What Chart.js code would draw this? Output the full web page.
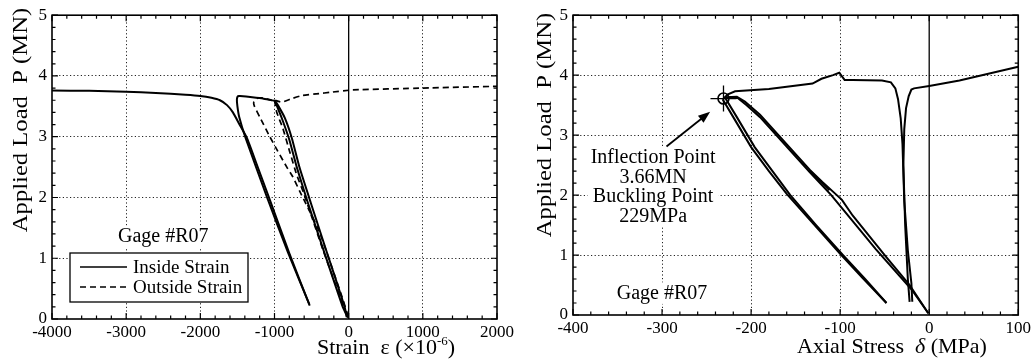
<!DOCTYPE html>
<html>
<head>
<meta charset="utf-8">
<script src="https://cdn.jsdelivr.net/npm/chart.js@4.4.0/dist/chart.umd.min.js"></script>
<style>
html, body { margin: 0; padding: 0; background: #fff; }
#wrap { position: relative; width: 1034px; height: 362px; }
.box { position: absolute; top: 0; width: 517px; height: 362px; }
</style>
</head>
<body>
<div id="wrap">
  <div class="box" style="left:0"><canvas id="strainChart"></canvas></div>
  <div class="box" style="left:517px"><canvas id="stressChart"></canvas></div>
</div>
<script>
// ---- data: [x, load P (MN)] ----

// left panel, strain (x1e-6)
var insideCurve = [[-4000,3.76],[-3500,3.755],[-3000,3.74],[-2600,3.72],[-2200,3.69],[-2000,3.67],[-1850,3.64],
    [-1736,3.60],[-1640,3.52],[-1561,3.40],[-1466,3.19],[-1372,2.98],[-1250,2.58],[-1063,1.96],[-800,1.08],[-525,0.22]];
var insideLoop = [[-530,0.24],[-820,1.10],[-1100,2.0],[-1390,2.98],[-1475,3.32],[-1500,3.50],[-1507,3.62],[-1490,3.67],
    [-1466,3.67],[-1300,3.65],[-1157,3.63],[-1040,3.60],[-996,3.59],[-955,3.52],[-861,3.31],[-767,2.98],[-659,2.48],
    [-510,1.91],[-300,1.12],[-54,0.2],[-27,0.03]];
var insideReturn = [[-985,3.56],[-900,3.30],[-800,2.95],[-700,2.50],[-560,1.95],[-330,1.10],[-80,0.2],[-10,0.02]];
var outsideUp = [[-5,0.04],[-80,0.33],[-400,1.45],[-659,2.10],[-753,2.34],[-834,2.50],[-955,2.76],[-1063,3.0],
    [-1197,3.32],[-1270,3.50],[-1280,3.57],[-1238,3.63],[-1157,3.64],[-1040,3.60]];
var outsideDown = [[-1000,3.60],[-969,3.40],[-888,3.14],[-794,2.75],[-700,2.37],[-600,2.05],[-350,1.15],[-50,0.15],[-10,0.04]];
var outsideFlat = [[-1000,3.60],[-900,3.57],[-760,3.63],[-619,3.68],[-400,3.71],[-256,3.73],[54,3.77],[1000,3.80],[2000,3.83]];

// right panel, axial stress (MPa)
var stressTop = [[-231,3.61],[-226,3.68],[-218,3.73],[-180,3.77],[-131,3.86],[-121,3.94],[-108,4.0],[-101,4.04],
    [-95,3.92],[-86,3.92],[-53,3.91],[-43,3.88],[-38,3.78],[-35,3.6],[-32,3.28],[-30,2.85],[-28,1.9],[-24,1.08],[-20,0.53],[-19,0.22]];
var stressRecover = [[-22,0.22],[-24,0.6],[-27,1.5],[-29,2.5],[-28,3.1],[-26,3.45],[-23,3.65],[-20,3.76],[-17,3.78],[0,3.82],[34,3.91],[100,4.14]];
var stressLoopOuter = [[-1,0.03],[-22,0.5],[-50,1.0],[-86,1.66],[-98,1.92],[-120,2.22],[-134,2.42],[-190,3.34],
    [-207,3.56],[-216,3.64],[-229,3.63]];
var stressLoopInner = [[-229,3.62],[-215,3.62],[-205,3.50],[-190,3.30],[-134,2.38],[-110,2.0],[-60,1.1],[-19,0.41],[-1,0.03]];
var stressOverlap = [[-135,2.42],[-112,2.08]];
var stressLower1 = [[-232,3.60],[-220,3.30],[-200,2.80],[-180,2.40],[-160,2.02],[-130,1.52],[-100,1.02],[-75,0.62],[-48,0.2]];
var stressLower2 = [[-229,3.62],[-216,3.30],[-196,2.80],[-176,2.40],[-156,2.0],[-127,1.50],[-97,1.0],[-72,0.6],[-48,0.2]];
var inflectionPoint = [[-231,3.61]];

var strainTicks = { min: -4000, max: 2000, step: 200, major: 1000 };
var stressTicks = { min: -400, max: 100, step: 20, major: 100 };
var loadTicks = { min: 0, max: 5, step: 0.2, major: 1 };

var SERIF = "'Liberation Serif', 'Times New Roman', serif";

function isMajor(v, major) {
    return Math.abs(v / major - Math.round(v / major)) < 1e-6;
}

function series(points, label, dash, tension) {
    return {
        label: label,
        data: points.map(function(p) { return { x: p[0], y: p[1] }; }),
        showLine: true,
        borderColor: '#000',
        borderWidth: dash ? 1.7 : 2,
        borderDash: dash || [],
        pointRadius: 0,
        tension: tension === undefined ? 0.15 : tension,
        fill: false
    };
}

function drawRich(ctx, parts, cx, cy, stretch) {
    var total = 0;
    parts.forEach(function(p) { ctx.font = p.f; p.w = ctx.measureText(p.t).width; total += p.w; });
    ctx.save();
    ctx.translate(cx, cy);
    ctx.scale(stretch || 1, 1);
    var x = -total / 2;
    ctx.textAlign = 'left';
    ctx.textBaseline = 'middle';
    parts.forEach(function(p) { ctx.font = p.f; ctx.fillText(p.t, x, p.dy || 0); x += p.w; });
    ctx.restore();
}

// frame, inward ticks, zero line, notes, legend, titles
var paperFrame = {
    id: 'paperFrame',
    beforeDatasetsDraw: function(chart, args, o) {
        var ctx = chart.ctx, a = chart.chartArea, sx = chart.scales.x, sy = chart.scales.y;
        ctx.save();
        ctx.strokeStyle = '#000';
        ctx.lineWidth = 1.3;
        var zx = sx.getPixelForValue(0);
        ctx.beginPath(); ctx.moveTo(zx, a.top); ctx.lineTo(zx, a.bottom); ctx.stroke();

        (o.notes || []).forEach(function(n) {
            var cx = sx.getPixelForValue(n.x), cy = sy.getPixelForValue(n.y);
            ctx.font = '20px ' + SERIF;
            var w = 0;
            n.lines.forEach(function(t) { w = Math.max(w, ctx.measureText(t).width); });
            var h = n.lines.length * 19.5;
            ctx.fillStyle = '#fff';
            ctx.fillRect(cx - w / 2 - 3, cy - 11, w + 6, h + 2);
            ctx.fillStyle = '#000';
            ctx.textAlign = 'center';
            ctx.textBaseline = 'middle';
            n.lines.forEach(function(t, i) { ctx.fillText(t, cx, cy + i * 19.5); });
        });

        if (o.legend) {
            var L = o.legend;
            var bx = a.left + L.dx, by = a.bottom - L.dy;
            ctx.fillStyle = '#fff';
            ctx.fillRect(bx, by, L.w, L.h);
            ctx.lineWidth = 1.3;
            ctx.strokeRect(bx, by, L.w, L.h);
            var seen = {}, row = 0;
            chart.data.datasets.forEach(function(ds) {
                if (!ds.label || seen[ds.label]) return;
                seen[ds.label] = true;
                var ly = by + 14 + row * 20;
                ctx.setLineDash(ds.borderDash || []);
                ctx.lineWidth = 1.6;
                ctx.beginPath(); ctx.moveTo(bx + 10, ly); ctx.lineTo(bx + 57, ly); ctx.stroke();
                ctx.setLineDash([]);
                ctx.fillStyle = '#000';
                ctx.font = '19px ' + SERIF;
                ctx.textAlign = 'left';
                ctx.textBaseline = 'middle';
                ctx.fillText(ds.label, bx + 63, ly + 1);
                row++;
            });
        }
        ctx.restore();
    },
    afterDatasetsDraw: function(chart, args, o) {
        var ctx = chart.ctx, a = chart.chartArea, sx = chart.scales.x, sy = chart.scales.y;
        ctx.save();
        ctx.strokeStyle = '#000';
        ctx.lineWidth = 1.2;
        sx.ticks.forEach(function(t) {
            var px = sx.getPixelForValue(t.value), len = isMajor(t.value, o.xMajor) ? 6 : 3.5;
            ctx.beginPath();
            ctx.moveTo(px, a.bottom); ctx.lineTo(px, a.bottom - len);
            ctx.moveTo(px, a.top); ctx.lineTo(px, a.top + len);
            ctx.stroke();
        });
        sy.ticks.forEach(function(t) {
            var py = sy.getPixelForValue(t.value), len = isMajor(t.value, o.yMajor) ? 6 : 3.5;
            ctx.beginPath();
            ctx.moveTo(a.left, py); ctx.lineTo(a.left + len, py);
            ctx.moveTo(a.right, py); ctx.lineTo(a.right - len, py);
            ctx.stroke();
        });
        ctx.lineWidth = 1.6;
        ctx.strokeRect(a.left, a.top, a.right - a.left, a.bottom - a.top);

        if (o.arrow) {
            var x1 = sx.getPixelForValue(o.arrow[0][0]), y1 = sy.getPixelForValue(o.arrow[0][1]);
            var x2 = sx.getPixelForValue(o.arrow[1][0]), y2 = sy.getPixelForValue(o.arrow[1][1]);
            var ang = Math.atan2(y2 - y1, x2 - x1);
            ctx.lineWidth = 1.8;
            ctx.beginPath(); ctx.moveTo(x1, y1); ctx.lineTo(x2 - 8 * Math.cos(ang), y2 - 8 * Math.sin(ang)); ctx.stroke();
            ctx.fillStyle = '#000';
            ctx.beginPath();
            ctx.moveTo(x2, y2);
            ctx.lineTo(x2 - 12 * Math.cos(ang) + 4.5 * Math.sin(ang), y2 - 12 * Math.sin(ang) - 4.5 * Math.cos(ang));
            ctx.lineTo(x2 - 12 * Math.cos(ang) - 4.5 * Math.sin(ang), y2 - 12 * Math.sin(ang) + 4.5 * Math.cos(ang));
            ctx.closePath(); ctx.fill();
        }
        ctx.restore();
    },
    afterDraw: function(chart, args, o) {
        var ctx = chart.ctx;
        ctx.save();
        ctx.fillStyle = '#000';
        drawRich(ctx, o.xTitle, o.xTitlePos[0], o.xTitlePos[1], 1);
        ctx.translate(o.yTitlePos[0], o.yTitlePos[1]);
        ctx.rotate(-Math.PI / 2);
        drawRich(ctx, o.yTitle, 0, 0, 1.12);
        ctx.restore();
    }
};

function axis(t, width, height) {
    var horizontal = width === undefined;
    return {
        type: 'linear',
        min: t.min,
        max: t.max,
        ticks: {
            stepSize: t.step,
            autoSkip: false,
            maxRotation: 0,
            padding: horizontal ? 3 : 5,
            color: '#000',
            font: { family: SERIF, size: 17 },
            callback: function(v) { return isMajor(v, t.major) ? String(Math.round(v)) : ''; }
        },
        grid: {
            drawTicks: false,
            lineWidth: 1,
            color: function(c) {
                var v = c.tick ? c.tick.value : 0;
                if (!isMajor(v, t.major) || v === t.min || v === t.max || v === 0) return 'rgba(0,0,0,0)';
                return '#222';
            }
        },
        border: { display: false, dash: [1.2, 2.4] },
        afterFit: function(s) {
            if (horizontal) s.height = height; else s.width = width;
        }
    };
}

var titleFont = '22px ' + SERIF;

new Chart(document.getElementById('strainChart'), {
    type: 'scatter',
    data: {
        datasets: [
            series(insideCurve, 'Inside Strain'),
            series(insideLoop, 'Inside Strain'),
            series(insideReturn, 'Inside Strain'),
            series(outsideUp, 'Outside Strain', [6, 4]),
            series(outsideDown, 'Outside Strain', [6, 4]),
            series(outsideFlat, 'Outside Strain', [6, 4])
        ]
    },
    options: {
        responsive: true,
        maintainAspectRatio: false,
        animation: false,
        layout: { padding: { left: 0, right: 19, top: 15, bottom: 0 } },
        scales: {
            x: axis(strainTicks, undefined, 43),
            y: axis(loadTicks, 52)
        },
        plugins: {
            legend: { display: false },
            tooltip: { enabled: false },
            paperFrame: {
                xMajor: strainTicks.major,
                yMajor: loadTicks.major,
                notes: [{ x: -2500, y: 1.35, lines: ['Gage #R07'] }],
                legend: { dx: 18, dy: 66, w: 178, h: 49 },
                xTitle: [{ t: 'Strain  ', f: titleFont }, { t: 'ε', f: titleFont }, { t: ' (×10', f: titleFont },
                         { t: '-6', f: '13px ' + SERIF, dy: -6 }, { t: ')', f: titleFont }],
                xTitlePos: [386, 348],
                yTitle: [{ t: 'Applied Load  P (MN)', f: '22px ' + SERIF }],
                yTitlePos: [21, 120]
            }
        }
    },
    plugins: [paperFrame]
});

new Chart(document.getElementById('stressChart'), {
    type: 'scatter',
    data: {
        datasets: [
            series(stressTop, '', null, 0),
            series(stressRecover, '', null, 0),
            series(stressLoopOuter, '', null, 0),
            series(stressLoopInner, '', null, 0),
            series(stressOverlap, '', null, 0),
            series(stressLower1, '', null, 0),
            series(stressLower2, '', null, 0),
            {
                data: inflectionPoint.map(function(p) { return { x: p[0], y: p[1] }; }),
                pointStyle: 'circle', pointRadius: 5.5, borderColor: '#000', borderWidth: 1.6,
                backgroundColor: 'rgba(0,0,0,0)'
            },
            {
                data: inflectionPoint.map(function(p) { return { x: p[0], y: p[1] }; }),
                pointStyle: 'cross', pointRadius: 13, borderColor: '#000', borderWidth: 1.3
            }
        ]
    },
    options: {
        responsive: true,
        maintainAspectRatio: false,
        animation: false,
        layout: { padding: { left: 0, right: 15, top: 13, bottom: 0 } },
        scales: {
            x: axis(stressTicks, undefined, 47),
            y: axis(loadTicks, 56)
        },
        plugins: {
            legend: { display: false },
            tooltip: { enabled: false },
            paperFrame: {
                xMajor: stressTicks.major,
                yMajor: loadTicks.major,
                notes: [
                    { x: -310, y: 2.62, lines: ['Inflection Point', '3.66MN', 'Buckling Point', '229MPa'] },
                    { x: -300, y: 0.36, lines: ['Gage #R07'] }
                ],
                arrow: [[-295, 2.81], [-246, 3.39]],
                xTitle: [{ t: 'Axial Stress  ', f: titleFont }, { t: 'δ', f: 'italic ' + titleFont }, { t: ' (MPa)', f: titleFont }],
                xTitlePos: [375, 347],
                yTitle: [{ t: 'Applied Load  P (MN)', f: '22px ' + SERIF }],
                yTitlePos: [28, 125]
            }
        }
    },
    plugins: [paperFrame]
});
</script>
</body>
</html>
